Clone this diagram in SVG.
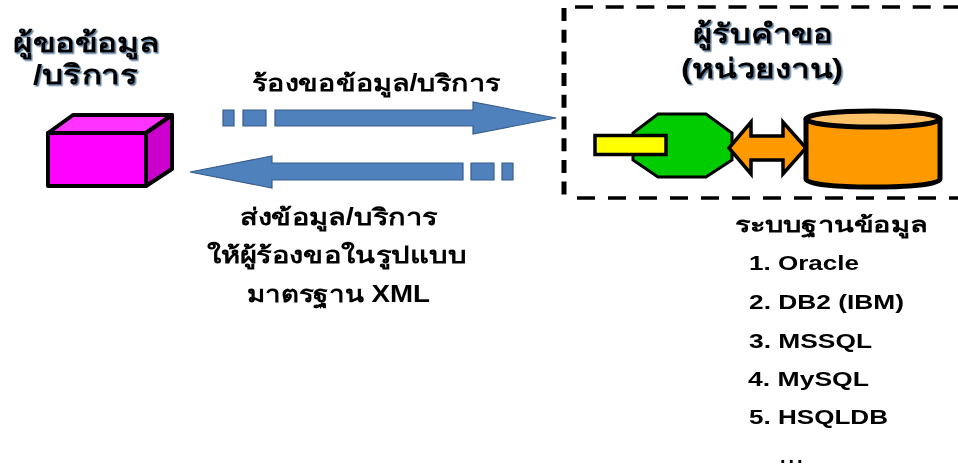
<svg xmlns="http://www.w3.org/2000/svg" width="958" height="468" viewBox="0 0 958 468">
<defs>
<filter id="soft" x="-5%" y="-20%" width="110%" height="140%"><feGaussianBlur stdDeviation="0.5"/></filter>
<filter id="shadow" x="-5%" y="-20%" width="110%" height="140%"><feDropShadow dx="1.5" dy="1.5" stdDeviation="0.6" flood-color="#5f7f9f"/></filter>
</defs>
<style>
text{font-family:"Liberation Sans","Noto Sans","DejaVu Sans",sans-serif;fill:#000;font-weight:bold;text-anchor:start}
.title{font-size:27px;filter:url(#shadow)}
.label{font-size:23px;filter:url(#soft)}
.item{font-size:20px;filter:url(#soft)}
.blue{fill:#4f81bd;stroke:#385d8a;stroke-width:1.2}
.k{stroke:#000;stroke-linejoin:round}
.m{stroke:#000;stroke-linejoin:miter;stroke-miterlimit:6}
.dash{stroke:#000;fill:none}
</style>
<rect width="958" height="468" fill="#fff"/>
<g id="client">
<path class="k" d="M48 133H146V186H48Z" fill="#ff00ff" stroke-width="4"/>
<path class="k" d="M48 133L73 115H172L146 133Z" fill="#ff33ff" stroke-width="4"/>
<path class="k" d="M146 133L172 115V169L146 186Z" fill="#cc00cc" stroke-width="4"/>
<text class="title" x="13" y="52" textLength="147" lengthAdjust="spacingAndGlyphs">ผู้ขอข้อมูล</text>
<text class="title" x="33" y="84" textLength="105" lengthAdjust="spacingAndGlyphs">/บริการ</text>
</g>
<g id="connectors">
<path class="blue" d="M223 110H234V126H223Z M243 110H266V126H243Z M275 110H473V102L556 118L473 134V126H275Z"/>
<path class="blue" d="M513 163H502V180H513Z M494 163H471V180H494Z M463 163H272V156L190 172L272 188V180H463Z"/>
</g>
<g id="request-label"><text class="label" x="252" y="91" textLength="248" lengthAdjust="spacingAndGlyphs">ร้องขอข้อมูล/บริการ</text></g>
<g id="response-label">
<text class="label" x="240" y="225" textLength="197" lengthAdjust="spacingAndGlyphs">ส่งข้อมูล/บริการ</text>
<text class="label" x="207" y="263" textLength="260" lengthAdjust="spacingAndGlyphs">ให้ผู้ร้องขอในรูปแบบ</text>
<text class="label" x="247" y="302" textLength="183" lengthAdjust="spacingAndGlyphs">มาตรฐาน XML</text>
</g>
<g id="server">
<path class="dash" stroke-width="3.500" stroke-dasharray="18 12.7" d="M575 7H958"/>
<path class="dash" stroke-width="3.500" stroke-dasharray="18 13" d="M577 198H958"/>
<path class="dash" stroke-width="5" stroke-dasharray="13 8.7" d="M564 8V198"/>
<text class="title" x="693" y="43" textLength="139" lengthAdjust="spacingAndGlyphs">ผู้รับคำขอ</text>
<text class="title" x="681" y="78" textLength="162" lengthAdjust="spacingAndGlyphs">(หน่วยงาน)</text>
</g>
<g id="service">
<path class="m" d="M658 114H706L732 133V160L706 177H658L633 160V133Z" fill="#00cc00" stroke-width="3"/>
<rect class="m" x="595" y="135.500" width="71" height="19" fill="#ffff00" stroke-width="3.500"/>
</g>
<g id="link">
<path class="m" d="M729 148L751 122V136H783V122L806 148L783 174V160H751V174Z" fill="#ff9900" stroke-width="3.500"/>
</g>
<g id="database">
<path class="k" d="M806 119V179C806 184 835 187 873 187S940 184 940 179V119Z" fill="#ff9900" stroke-width="5"/>
<ellipse class="k" cx="873" cy="119" rx="67" ry="8" fill="#ffc266" stroke-width="5"/>
</g>
<g id="db-list">
<text class="label" x="735" y="232" style="font-size:21px" textLength="193" lengthAdjust="spacingAndGlyphs">ระบบฐานข้อมูล</text>
<text class="item" x="749" y="270" textLength="110" lengthAdjust="spacingAndGlyphs">1. Oracle</text>
<text class="item" x="749" y="309" textLength="155" lengthAdjust="spacingAndGlyphs">2. DB2 (IBM)</text>
<text class="item" x="749" y="348" textLength="123" lengthAdjust="spacingAndGlyphs">3. MSSQL</text>
<text class="item" x="748" y="386" textLength="121" lengthAdjust="spacingAndGlyphs">4. MySQL</text>
<text class="item" x="749" y="424" textLength="139" lengthAdjust="spacingAndGlyphs">5. HSQLDB</text>
<text class="item" x="780" y="463" letter-spacing="3">...</text>
</g>
</svg>
